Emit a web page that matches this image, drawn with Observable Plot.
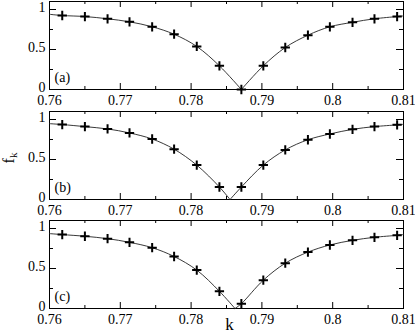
<!DOCTYPE html>
<html>
<head>
<meta charset="utf-8">
<script src="https://cdn.jsdelivr.net/npm/d3@7"></script>
<script src="https://cdn.jsdelivr.net/npm/@observablehq/plot@0.6"></script>
<style>
  html, body { margin: 0; padding: 0; background: #fff; }
  #wrap { position: relative; width: 415px; height: 333px; background: #fff; font-family: "Liberation Serif", "DejaVu Serif", serif; }
  #wrap svg, #wrap svg text { font-family: "Liberation Serif", "DejaVu Serif", serif !important; }
  .panel { position: absolute; left: 0; }
  #ylab { position: absolute; left: 4px; top: 150px; font-size: 16px; line-height: 16px; transform: rotate(-90deg); transform-origin: center; white-space: nowrap; }
  #ylab sub { font-size: 11px; vertical-align: -3px; line-height: 0; }
</style>
</head>
<body>
<div id="wrap">
  <div class="panel" id="pa" style="top:0px"></div>
  <div class="panel" id="pb" style="top:110px"></div>
  <div class="panel" id="pc" style="top:219px"></div>
  <div id="ylab">f<sub>k</sub></div>
</div>
<script>
// ---- data ----
const kPts = [0.7618, 0.7650, 0.7682, 0.7713, 0.7745, 0.7776, 0.7808, 0.7840,
              0.7871, 0.7902, 0.7933, 0.7965, 0.7996, 0.8028, 0.8059, 0.8091];
const fA = [0.925, 0.912, 0.884, 0.846, 0.784, 0.691, 0.538, 0.296,
            0.000, 0.296, 0.525, 0.679, 0.784, 0.840, 0.884, 0.912];
const fB = [0.937, 0.911, 0.882, 0.832, 0.756, 0.629, 0.430, 0.156,
            0.156, 0.430, 0.620, 0.747, 0.819, 0.877, 0.911, 0.933];
const fC = [0.924, 0.903, 0.873, 0.827, 0.760, 0.650, 0.480, 0.215,
            0.060, 0.354, 0.566, 0.705, 0.794, 0.852, 0.890, 0.915];
// curve values at the frame edges (k = 0.76 and 0.81) and the cusp position
const edgeA = [0.940, 0.920], dipA = 0.7871;
const edgeB = [0.948, 0.940], dipB = 0.7855;
const edgeC = [0.936, 0.925], dipC = 0.7862;
const panelLabels = ["(a)", "(b)", "(c)"];
const xMajor = [0.76, 0.77, 0.78, 0.79, 0.80, 0.81];
const xMinor = [0.765, 0.775, 0.785, 0.795, 0.805];
const yMajor = [0, 0.5, 1];
const yMinor = [0.25, 0.75];
const xDomain = [0.76, 0.81];
const yDomain = [0, 1.1];

function buildLine(f, edge, dip) {
  const pts = [{k: xDomain[0], f: edge[0], br: 0}];
  kPts.forEach((k, i) => {
    if (Math.abs(k - dip) < 1e-6) return;
    pts.push({k, f: f[i], br: k < dip ? 0 : 1});
  });
  pts.push({k: dip, f: 0, br: 0});
  pts.push({k: dip, f: 0, br: 1});
  pts.push({k: xDomain[1], f: edge[1], br: 1});
  pts.sort((a, b) => a.br - b.br || a.k - b.k);
  return pts;
}

const FONT = "'Liberation Serif', serif";
const H = 88; // plot-area height in px
function panel(f, edge, dip, label, height, extra = []) {
  const pts = kPts.map((k, i) => ({k, f: f[i]}));
  return Plot.plot({
    width: 415,
    height,
    marginTop: 1,
    marginBottom: height - 1 - H,
    marginLeft: 49,
    marginRight: 12,
    x: {domain: xDomain, label: null},
    y: {domain: yDomain, label: null},
    style: {fontFamily: FONT, fontSize: "14px", background: "white", color: "black", overflow: "visible"},
    marks: [
      Plot.frame({stroke: "black", strokeWidth: 1}),
      // inward ticks, all four sides
      Plot.tickX(xMajor, {x: d => d, insetTop: H - 6, stroke: "black"}),
      Plot.tickX(xMinor, {x: d => d, insetTop: H - 3, stroke: "black"}),
      Plot.tickX(xMajor, {x: d => d, insetBottom: H - 6, stroke: "black"}),
      Plot.tickX(xMinor, {x: d => d, insetBottom: H - 3, stroke: "black"}),
      Plot.tickY(yMajor, {y: d => d, insetRight: 353 - 6, stroke: "black"}),
      Plot.tickY(yMinor, {y: d => d, insetRight: 353 - 3, stroke: "black"}),
      Plot.tickY(yMajor, {y: d => d, insetLeft: 353 - 6, stroke: "black"}),
      Plot.tickY(yMinor, {y: d => d, insetLeft: 353 - 3, stroke: "black"}),
      Plot.axisX(xMajor, {tickSize: 0, tickPadding: 6, tickFormat: d => `${d}`, label: null, fill: "black", fontFamily: FONT, fontSize: 14}),
      Plot.axisY(yMajor, {tickSize: 0, tickPadding: 4, dy: -2, tickFormat: d => `${d}`, label: null, fill: "black", fontFamily: FONT, fontSize: 14}),
      Plot.line(buildLine(f, edge, dip), {x: "k", y: "f", z: "br", curve: "catmull-rom", stroke: "#222", strokeWidth: 0.9}),
      Plot.dot(pts, {x: "k", y: "f", symbol: "plus", r: 3.1, stroke: "black", strokeWidth: 2}),
      Plot.text([label], {text: d => d, frameAnchor: "bottom-left", dx: 5, dy: -12, textAnchor: "start", lineAnchor: "middle", fontSize: 14, fontFamily: FONT, fill: "black"}),
      ...extra
    ]
  });
}

document.getElementById("pa").appendChild(panel(fA, edgeA, dipA, panelLabels[0], 110));
document.getElementById("pb").appendChild(panel(fB, edgeB, dipB, panelLabels[1], 109));
document.getElementById("pc").appendChild(panel(fC, edgeC, dipC, panelLabels[2], 114, [
  Plot.text(["k"], {text: d => d, frameAnchor: "bottom", dx: 3, dy: 21, lineAnchor: "bottom", fontSize: 17, fontFamily: FONT, fill: "black"})
]));
</script>
</body>
</html>
